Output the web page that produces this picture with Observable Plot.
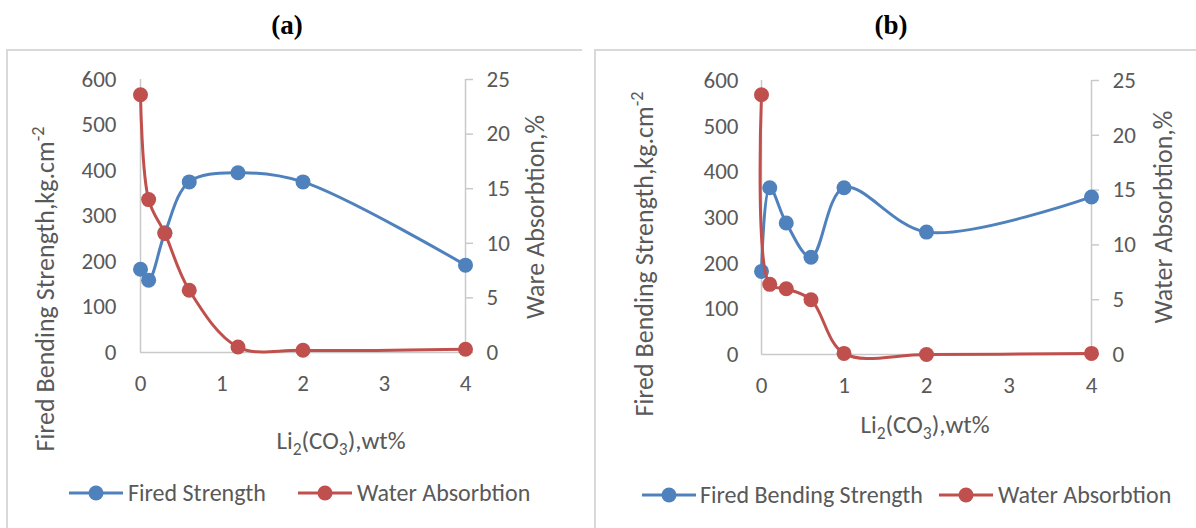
<!DOCTYPE html>
<html>
<head>
<meta charset="utf-8">
<script src="https://cdn.jsdelivr.net/npm/d3@7"></script>
<script src="https://cdn.jsdelivr.net/npm/@observablehq/plot@0.6"></script>
<style>
  body { margin: 0; background: #fff; }
  #root { position: relative; width: 1196px; height: 528px; overflow: hidden; background: #fff;
          font-family: Calibri, Carlito, Lato, sans-serif; color: #595959; }
  .abs { position: absolute; white-space: nowrap; line-height: 1; }
  .frame { position: absolute; border-left: 2px solid #d9d9d9; border-top: 2px solid #d9d9d9; }
  .ptitle { font-family: "Times New Roman", "Liberation Serif", serif; font-weight: bold; font-size: 27px; color: #000;
            transform: translate(-50%, -50%); }
  .axt { font-size: 25px; transform: translate(-50%, -50%); }
  .vt { font-size: 26px; transform: translate(-50%, -50%) rotate(-90deg); }
  .leg { font-size: 24px; transform: translateY(-50%); }
  sub { font-size: 0.7em; vertical-align: -0.35em; line-height: 0; }
  sup { font-size: 0.7em; vertical-align: 0.55em; line-height: 0; }
  .chart { position: absolute; top: 0; }
</style>
</head>
<body>
<div id="root"></div>
<script>
// Li2CO3 additions (wt%) and measured properties for the two bodies
const xA = [0, 0.1, 0.3, 0.6, 1.2, 2, 4];
const strengthA = [183, 159, 263, 375, 395, 375, 192];
const waterA = [23.6, 14.0, 10.9, 5.7, 0.5, 0.2, 0.3];

const xB = [0, 0.1, 0.3, 0.6, 1, 2, 4];
const strengthB = [182, 365, 288, 213, 365, 268, 345];
const waterB = [23.7, 6.4, 6.0, 5.0, 0.1, 0, 0.1];

const xTicks = [0, 1, 2, 3, 4];
const strengthTicks = [0, 100, 200, 300, 400, 500, 600];
const waterTicks = [0, 5, 10, 15, 20, 25];

const panelTitles = ["(a)", "(b)"];
const seriesNamesA = ["Fired Strength", "Water Absorbtion"];
const seriesNamesB = ["Fired Bending Strength", "Water Absorbtion"];

const BLUE = "#4f81bd";
const RED = "#c0504d";
const AXIS = "#c9c9c9";
const FONT = "Calibri, Carlito, Lato, sans-serif";
// water absorption (%) shares the strength scale: 25 % ↔ 600 kg/cm²
const W2S = 600 / 25;

function panel(xs, strength, water, opts) {
  const S = xs.map((x, i) => ({x, y: strength[i]}));
  const W = xs.map((x, i) => ({x, y: water[i] * W2S}));
  return Plot.plot({
    width: opts.width,
    height: opts.height,
    marginLeft: opts.ml, marginRight: opts.mr, marginTop: opts.mt, marginBottom: opts.mb,
    style: {fontFamily: FONT, fontSize: "23px", color: "#595959", background: "transparent", overflow: "visible"},
    x: {domain: [0, 4]},
    y: {domain: [0, 600]},
    marks: [
      Plot.ruleX([0], {y1: 0, y2: 600, stroke: AXIS, strokeWidth: 1.5}),
      Plot.ruleX([4], {y1: 0, y2: 600, stroke: AXIS, strokeWidth: 1.5}),
      Plot.ruleY([0], {x1: 0, x2: 4, stroke: AXIS, strokeWidth: 1.5}),
      Plot.axisX({ticks: xTicks, tickSize: 0, tickPadding: 22, tickFormat: d => String(d), label: null}),
      Plot.axisY({ticks: strengthTicks, tickSize: 0, tickPadding: opts.lpad, tickFormat: d => String(d), label: null}),
      Plot.axisY({anchor: "right", ticks: waterTicks.map(d => d * W2S), tickSize: 7, tickPadding: 14,
                  tickFormat: d => String(Math.round(d / W2S)), stroke: AXIS, strokeWidth: 1.5, fill: "#595959", label: null}),
      Plot.line(S, {x: "x", y: "y", curve: "catmull-rom", stroke: BLUE, strokeWidth: 3}),
      Plot.dot(S, {x: "x", y: "y", r: 7.5, fill: BLUE}),
      Plot.line(W, {x: "x", y: "y", curve: "catmull-rom", stroke: RED, strokeWidth: 3}),
      Plot.dot(W, {x: "x", y: "y", r: 7.5, fill: RED})
    ]
  });
}

const root = document.getElementById("root");

function addHTML(cls, html, left, top) {
  const d = document.createElement("div");
  d.className = "abs " + cls;
  d.style.left = left + "px";
  d.style.top = top + "px";
  d.innerHTML = html;
  root.appendChild(d);
  return d;
}

function swatch(color, left, cy) {
  const ns = "http://www.w3.org/2000/svg";
  const s = document.createElementNS(ns, "svg");
  s.setAttribute("width", 54); s.setAttribute("height", 18);
  s.style.position = "absolute"; s.style.left = left + "px"; s.style.top = (cy - 9) + "px";
  const l = document.createElementNS(ns, "line");
  l.setAttribute("x1", 0); l.setAttribute("x2", 54); l.setAttribute("y1", 9); l.setAttribute("y2", 9);
  l.setAttribute("stroke", color); l.setAttribute("stroke-width", 3);
  const c = document.createElementNS(ns, "circle");
  c.setAttribute("cx", 27); c.setAttribute("cy", 9); c.setAttribute("r", 7.5); c.setAttribute("fill", color);
  s.appendChild(l); s.appendChild(c);
  root.appendChild(s);
}

// panel frames
const fa = document.createElement("div"); fa.className = "frame";
Object.assign(fa.style, {left: "6px", top: "49px", width: "574px", height: "500px"});
root.appendChild(fa);
const fb = document.createElement("div"); fb.className = "frame";
Object.assign(fb.style, {left: "594px", top: "49px", width: "620px", height: "500px"});
root.appendChild(fb);

// panel (a)
const ca = panel(xA, strengthA, waterA, {width: 590, height: 528, ml: 140, mr: 125, mt: 79, mb: 176, lpad: 24});
ca.classList.add("chart"); ca.style.left = "0px";
root.appendChild(ca);

// panel (b)
const cb = panel(xB, strengthB, waterB, {width: 600, height: 528, ml: 165, mr: 105, mt: 80, mb: 174, lpad: 23});
cb.classList.add("chart"); cb.style.left = "596px";
root.appendChild(cb);

// panel titles
addHTML("ptitle", panelTitles[0], 287, 25);
addHTML("ptitle", panelTitles[1], 891, 25);

// axis titles
const xTitle = "Li<sub>2</sub>(CO<sub>3</sub>),wt%";
addHTML("axt", xTitle, 341, 440);
addHTML("axt", xTitle, 925, 424);
addHTML("vt", "Fired Bending Strength,kg.cm<sup>-2</sup>", 45, 289);
addHTML("vt", "Fired Bending Strength,kg.cm<sup>-2</sup>", 644, 254);
addHTML("vt", "Ware Absorbtion,%", 535, 217);
addHTML("vt", "Water Absorbtion,%", 1163, 217);

// legends
swatch(BLUE, 69, 493);
addHTML("leg", seriesNamesA[0], 128, 493);
swatch(RED, 298, 493);
addHTML("leg", seriesNamesA[1], 357, 493);

swatch(BLUE, 642, 495);
addHTML("leg", seriesNamesB[0], 700, 495);
swatch(RED, 939, 495);
addHTML("leg", seriesNamesB[1], 998, 495);
</script>
</body>
</html>
